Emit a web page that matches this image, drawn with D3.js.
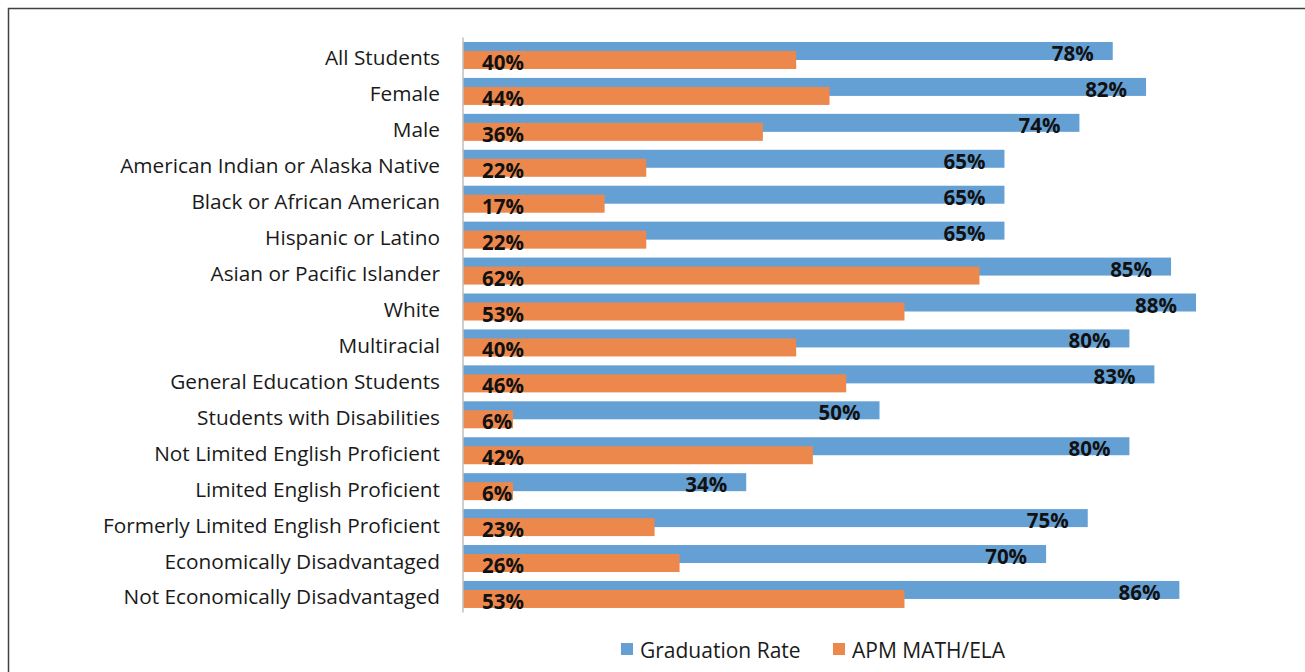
<!DOCTYPE html>
<html>
<head>
<meta charset="utf-8">
<script src="https://cdn.jsdelivr.net/npm/d3@7"></script>
<style>
  body { margin: 0; background: #fff; }
  text { font-family: "Open Sans", "Noto Sans", sans-serif; }
</style>
</head>
<body>
<div class="chart"></div>
<script>
// Set Dimensions
const width = 1305; const height = 672;

const categories = [
    "All Students", "Female", "Male", "American Indian or Alaska Native",
    "Black or African American", "Hispanic or Latino", "Asian or Pacific Islander",
    "White", "Multiracial", "General Education Students", "Students with Disabilities",
    "Not Limited English Proficient", "Limited English Proficient",
    "Formerly Limited English Proficient", "Economically Disadvantaged",
    "Not Economically Disadvantaged"
];
const gradRate = [78, 82, 74, 65, 65, 65, 85, 88, 80, 83, 50, 80, 34, 75, 70, 86];
const apm = [40, 44, 36, 22, 17, 22, 62, 53, 40, 46, 6, 42, 6, 23, 26, 53];
const seriesNames = ["Graduation Rate", "APM MATH/ELA"];
const colors = ["#65a0d5", "#ed884c"];

const svg = d3.select(".chart")
    .append("svg")
    .attr("width", width)
    .attr("height", height);

// outer frame
svg.append("rect")
    .attr("x", 8.5).attr("y", 8.5)
    .attr("width", width + 10).attr("height", height + 10)
    .attr("fill", "none")
    .attr("stroke", "#404040")
    .attr("stroke-width", 1.5);

const x = d3.scaleLinear()
    .domain([0, 100])
    .range([463, 1296]);

const y = d3.scaleBand()
    .domain(categories)
    .range([37.5, 612.4])
    .paddingInner(0.25)
    .paddingOuter(0.125);

const barH = 18;
const offset = 9;

// category labels (left axis)
svg.append("g")
    .selectAll("text")
    .data(categories)
    .join("text")
    .attr("x", 440)
    .attr("y", d => y(d) + y.bandwidth() / 2 + 2)
    .attr("text-anchor", "end")
    .attr("dominant-baseline", "central")
    .attr("font-size", 20.8)
    .attr("fill", "#1a1a1a")
    .text(d => d);

// graduation bars
svg.append("g")
    .selectAll("rect")
    .data(categories)
    .join("rect")
    .attr("x", x(0))
    .attr("y", d => y(d))
    .attr("width", (d, i) => x(gradRate[i]) - x(0))
    .attr("height", barH)
    .attr("fill", colors[0]);

// apm bars
svg.append("g")
    .selectAll("rect")
    .data(categories)
    .join("rect")
    .attr("x", x(0))
    .attr("y", d => y(d) + offset)
    .attr("width", (d, i) => x(apm[i]) - x(0))
    .attr("height", barH)
    .attr("fill", colors[1]);

// axis line
svg.append("line")
    .attr("x1", x(0)).attr("x2", x(0))
    .attr("y1", y.range()[0]).attr("y2", y.range()[1])
    .attr("stroke", "#bfbfbf")
    .attr("stroke-width", 1.5);

// graduation labels, inside end
svg.append("g")
    .selectAll("text")
    .data(categories)
    .join("text")
    .attr("x", (d, i) => x(gradRate[i]) - 19)
    .attr("y", d => y(d) + barH / 2 + 2)
    .attr("text-anchor", "end")
    .attr("dominant-baseline", "central")
    .attr("font-size", 20.5)
    .attr("font-weight", "bold")
    .attr("fill", "#111")
    .text((d, i) => gradRate[i] + "%");

// apm labels, inside base
svg.append("g")
    .selectAll("text")
    .data(categories)
    .join("text")
    .attr("x", x(0) + 19)
    .attr("y", d => y(d) + offset + barH / 2 + 2)
    .attr("text-anchor", "start")
    .attr("dominant-baseline", "central")
    .attr("font-size", 20.5)
    .attr("font-weight", "bold")
    .attr("fill", "#111")
    .text((d, i) => apm[i] + "%");

// legend
const legendX = [621, 833];
const legend = svg.append("g")
    .selectAll("g")
    .data(seriesNames)
    .join("g")
    .attr("transform", (d, i) => "translate(" + legendX[i] + ",643)");

legend.append("rect")
    .attr("width", 12).attr("height", 12)
    .attr("fill", (d, i) => colors[i]);

legend.append("text")
    .attr("x", 19)
    .attr("y", 7)
    .attr("dominant-baseline", "central")
    .attr("font-size", 21)
    .attr("fill", "#1a1a1a")
    .text(d => d);
</script>
</body>
</html>
